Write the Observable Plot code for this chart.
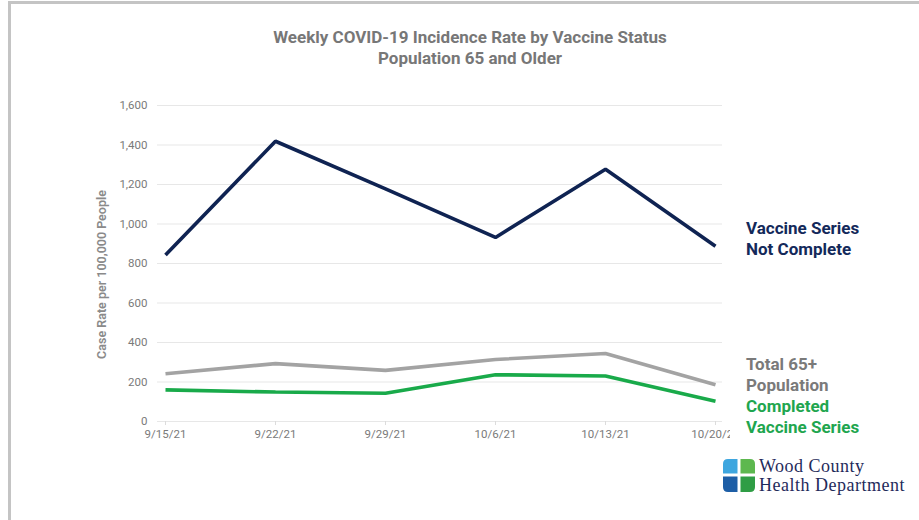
<!DOCTYPE html>
<html>
<head>
<meta charset="utf-8">
<script src="https://cdn.jsdelivr.net/npm/d3@7"></script>
<script src="https://cdn.jsdelivr.net/npm/@observablehq/plot@0.6"></script>
<style>
  html, body { margin: 0; padding: 0; background: #fff; }
  #wrap { position: relative; width: 919px; height: 520px; overflow: hidden; background: #fff; font-family: Roboto, "Noto Sans", sans-serif; }
  #frameTop { position: absolute; left: 8px; top: 1px; width: 911px; height: 3px; background: #c4c4c4; }
  #frameLeft { position: absolute; left: 8px; top: 1px; width: 3px; height: 519px; background: #c4c4c4; }
  #title { position: absolute; left: 0; top: 27px; width: 940px; text-align: center; font-weight: 700; font-size: 17px; line-height: 21px; color: #777; }
  #chart { position: absolute; left: 0; top: 0; }
  .lab { position: absolute; left: 746px; font-weight: 700; font-size: 17px; line-height: 21px; }
  #logo { position: absolute; left: 722px; top: 458px; }
  #logoText { position: absolute; left: 759px; top: 457px; font-family: "Liberation Serif", "DejaVu Serif", serif; font-size: 18px; line-height: 19px; letter-spacing: 0.5px; color: #1f2b5b; }
</style>
</head>
<body>
<div id="wrap">
  <div id="frameTop"></div>
  <div id="frameLeft"></div>
  <div id="title">Weekly COVID-19 Incidence Rate by Vaccine Status<br>Population 65 and Older</div>
  <div id="chart"></div>
  <div class="lab" style="top:218px;color:#13295a">Vaccine Series<br>Not Complete</div>
  <div class="lab" style="top:354px;color:#7a7a7a">Total 65+<br>Population</div>
  <div class="lab" style="top:396px;color:#1fa64f">Completed<br>Vaccine Series</div>
  <svg id="logo" width="34" height="36" viewBox="0 0 34 36">
    <path d="M6,1 H15.5 V15.5 H1 V6 Q1,1 6,1 Z" fill="#3ea6df"/>
    <path d="M18.5,1 H28 Q33,1 33,6 V15.5 H18.5 Z" fill="#5db84f"/>
    <path d="M1,18.5 H15.5 V34 H6 Q1,34 1,29 Z" fill="#1d5ea6"/>
    <path d="M18.5,18.5 H33 V29 Q33,34 28,34 H18.5 Z" fill="#2f9d45"/>
  </svg>
  <div id="logoText">Wood County<br>Health Department</div>
</div>
<script>
const dates = ["9/15/21", "9/22/21", "9/29/21", "10/6/21", "10/13/21", "10/20/21"];
const notComplete = [843, 1419, 1178, 932, 1277, 887];
const total65 = [242, 293, 259, 314, 344, 186];
const completed = [160, 149, 143, 237, 230, 102];
const yTicks = [0, 200, 400, 600, 800, 1000, 1200, 1400, 1600];
const seriesNames = ["Vaccine Series Not Complete", "Total 65+ Population", "Completed Vaccine Series"];
const seriesColors = ["#0f2352", "#a3a3a3", "#19aa4a"];

const rows = [];
[notComplete, total65, completed].forEach((vals, i) => {
  vals.forEach((v, j) => rows.push({series: seriesNames[i], date: dates[j], value: v}));
});

const chart = Plot.plot({
  width: 730,
  height: 450,
  marginLeft: 157,
  marginRight: 8,
  marginTop: 105,
  marginBottom: 29,
  style: {fontFamily: "Roboto, sans-serif", fontSize: "11.5px", color: "#7a7a7a", background: "transparent", overflow: "hidden"},
  x: {type: "point", domain: dates, padding: 0.065, label: null},
  y: {domain: [0, 1600], label: null},
  color: {domain: seriesNames, range: seriesColors},
  marks: [
    Plot.gridY(yTicks, {stroke: "#e7e7e7", strokeOpacity: 1}),
    Plot.axisY(yTicks, {tickSize: 0, tickPadding: 10, tickFormat: d3.format(","), label: null}),
    Plot.axisX({tickSize: 4, tickPadding: 4, stroke: "#dcdcdc", label: null}),
    Plot.text(["Case Rate per 100,000 People"], {frameAnchor: "left", dx: -56, dy: 11, rotate: -90, textAnchor: "middle", fontSize: 12.5, fontWeight: 600, fill: "#8a8a8a"}),
    Plot.lineY(rows, {x: "date", y: "value", z: "series", stroke: "series", strokeWidth: 3.6, strokeLinejoin: "miter", strokeLinecap: "butt"})
  ]
});
document.getElementById("chart").appendChild(chart);
</script>
</body>
</html>
